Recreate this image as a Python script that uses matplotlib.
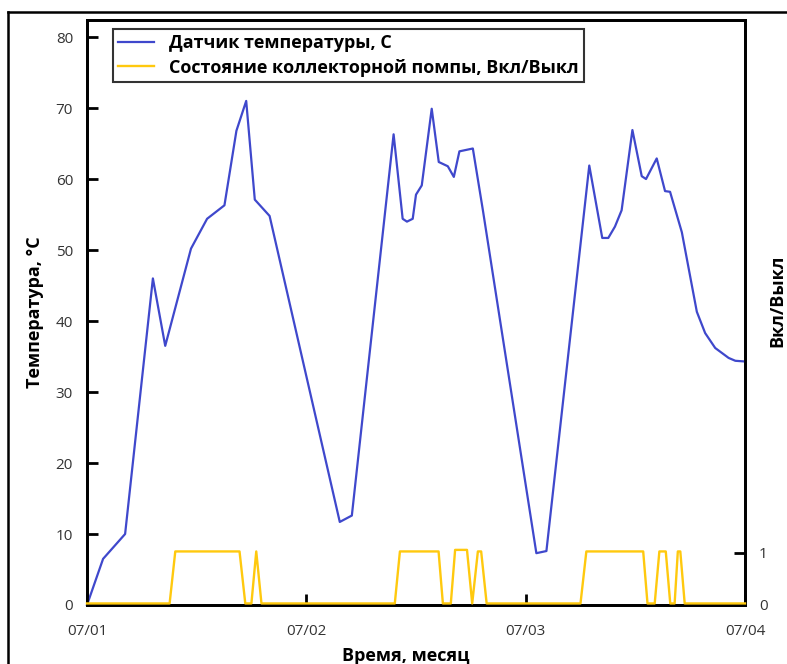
import matplotlib
matplotlib.use("Agg")
import matplotlib.pyplot as plt
from matplotlib.lines import Line2D

plt.rcParams['font.family'] = ['Open Sans', 'DejaVu Sans']

# temperature sensor, hours from 07/01 00:00
temp_hours = [0, 1.76, 4.17, 7.21, 8.56, 11.38, 13.14, 15.04, 16.35, 17.42,
              18.36, 19.98, 27.66, 28.98, 33.55, 34.54, 35.01, 35.64, 36.0,
              36.63, 37.72, 38.49, 39.48, 40.14, 40.75, 42.22, 43.32, 49.17,
              50.27, 54.96, 56.38, 57.04, 57.77, 58.5, 59.68, 60.7, 61.17,
              62.34, 63.25, 63.8, 65.09, 66.73, 67.64, 68.74, 70.21, 70.94, 72.0]
temp_values = [0, 6.5, 10, 46, 36.5, 50.2, 54.4, 56.3, 66.8, 71,
               57.1, 54.8, 11.7, 12.6, 66.3, 54.4, 54.0, 54.4, 57.8,
               59.1, 69.9, 62.4, 61.8, 60.3, 63.9, 64.3, 55.6, 7.3,
               7.6, 61.9, 51.7, 51.7, 53.3, 55.6, 66.9, 60.4, 60.0,
               62.9, 58.3, 58.2, 52.5, 41.3, 38.3, 36.2, 34.8, 34.4, 34.3]

# collector pump state (0 = off, 1 = on)
pump_hours = [0, 9.04, 9.66, 16.69, 17.32, 17.99, 18.52, 19.09, 33.68, 34.24,
              38.47, 38.94, 39.81, 40.28, 41.58, 42.15, 42.77, 43.13, 43.73,
              54.0, 54.64, 60.86, 61.33, 62.12, 62.63, 63.33, 63.82, 64.3,
              64.65, 64.92, 65.4, 72.0]
pump_state = [0, 0, 1, 1, 0, 0, 1, 0, 0, 1,
              1, 0, 0, 1.03, 1.03, 0, 1, 1, 0,
              0, 1, 1, 0, 0, 1, 1, 0, 0,
              1, 1, 0, 0]

day_ticks = [0, 24, 48, 72]
day_labels = ['07/01', '07/02', '07/03', '07/04']
temp_ticks = [0, 10, 20, 30, 40, 50, 60, 70, 80]

BLUE = '#3F48CC'
YELLOW = '#FFC90E'
TICK_COLOR = '#333333'

fig = plt.figure(figsize=(7.87, 6.64), dpi=100)
ax = fig.add_axes([87 / 787, 59 / 664, 658 / 787, 585 / 664])
ax2 = ax.twinx()

line_t, = ax.plot(temp_hours, temp_values, color=BLUE, lw=1.6,
                  label='Датчик температуры, С', clip_on=False, zorder=3)
line_p, = ax2.plot(pump_hours, [s + 0.03 for s in pump_state],
                   color=YELLOW, lw=1.7, clip_on=False, zorder=4,
                   label='Состояние коллекторной помпы, Вкл/Выкл')

ax.set_xlim(0, 72)
ax.set_ylim(0, 82.4)
ax2.set_ylim(0, 11.25)

ax.set_xticks(day_ticks)
ax.set_xticklabels(day_labels)
ax.set_yticks(temp_ticks)
ax2.set_yticks([0, 1])

for a in (ax, ax2):
    for s in a.spines.values():
        s.set_linewidth(2.0)
    a.tick_params(direction='in', length=8, width=2, labelsize=11,
                  labelcolor=TICK_COLOR, pad=10)
ax.tick_params(axis='x', pad=14)

ax.set_xlabel('Время, месяц', fontsize=13, fontweight='bold')
ax.xaxis.set_label_coords(0.485, -0.072)
ax.set_ylabel('Температура, °С', fontsize=13, fontweight='bold')
ax.yaxis.set_label_coords(-0.065, 0.5)
ax2.set_ylabel('Вкл/Выкл', fontsize=13, fontweight='bold')
ax2.yaxis.set_label_coords(1.036, 0.52)

leg = ax.legend(handles=[line_t, line_p], loc='upper left',
                bbox_to_anchor=(0.039, 0.985),
                prop={'weight': 'bold', 'size': 13}, frameon=True,
                fancybox=False, edgecolor='black', handlelength=2.0,
                borderpad=0.3, labelspacing=0.35, borderaxespad=0.0)
leg.get_frame().set_linewidth(1.5)
leg.set_zorder(5)

# outer frame of the picture
fig.add_artist(Line2D([8 / 787, 8 / 787], [0, 1 - 12 / 664],
                      transform=fig.transFigure, color='black', lw=1.8))
fig.add_artist(Line2D([8 / 787, 1], [1 - 12 / 664, 1 - 12 / 664],
                      transform=fig.transFigure, color='black', lw=1.8))

fig.savefig('out.png', dpi=100)
